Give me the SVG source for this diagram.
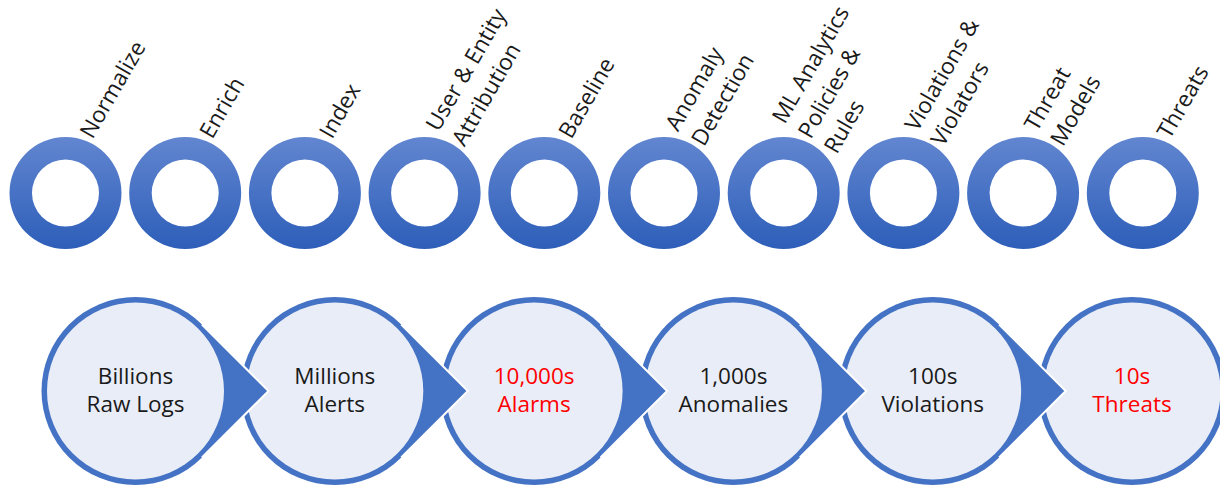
<svg xmlns="http://www.w3.org/2000/svg" xmlns:xlink="http://www.w3.org/1999/xlink" width="1220" height="487" viewBox="0 0 1220 487">
  <style>
    .lbl { font-family: "Open Sans", "Noto Sans", "Liberation Sans", sans-serif; font-size: 22.5px; fill: #1a1a1a; }
    .big { font-family: "Open Sans", "Noto Sans", "Liberation Sans", sans-serif; font-size: 22.5px; fill: #1a1a1a; text-anchor: middle; }
    .red { fill: #ff0000; }
    .ring { fill: url(#ringGrad); fill-rule: evenodd; }
    .outer { fill: #4472c4; }
    .inner { fill: #e9edf7; }
    .arr { fill: #4472c4; stroke: none; }
    .arrEdge { fill: none; stroke: #ffffff; stroke-width: 2; stroke-linejoin: miter; }
  </style>
  <defs>
    <linearGradient id="ringGrad" x1="0" y1="0" x2="0" y2="1">
      <stop offset="0" stop-color="#6286d0"/>
      <stop offset="1" stop-color="#2d5eb9"/>
    </linearGradient>
    <path id="ringShape" d="M -56 0 A 56 56 0 1 0 56 0 A 56 56 0 1 0 -56 0 Z M -33.5 0 A 33.5 33.5 0 1 0 33.5 0 A 33.5 33.5 0 1 0 -33.5 0 Z"/>
  </defs>
  <rect width="1220" height="487" fill="#ffffff"/>

  <!-- Top ring nodes -->
  <g id="ring-normalize">
    <use xlink:href="#ringShape" href="#ringShape" class="ring" transform="translate(65.5,193)"/>
    <text class="lbl" transform="translate(92.5,140) rotate(-60)"><tspan x="0" y="0">Normalize</tspan></text>
  </g>
  <g id="ring-enrich">
    <use xlink:href="#ringShape" href="#ringShape" class="ring" transform="translate(185.2,193)"/>
    <text class="lbl" transform="translate(212.2,140) rotate(-60)"><tspan x="0" y="0">Enrich</tspan></text>
  </g>
  <g id="ring-index">
    <use xlink:href="#ringShape" href="#ringShape" class="ring" transform="translate(304.9,193)"/>
    <text class="lbl" transform="translate(331.9,140) rotate(-60)"><tspan x="0" y="0">Index</tspan></text>
  </g>
  <g id="ring-attribution">
    <use xlink:href="#ringShape" href="#ringShape" class="ring" transform="translate(424.6,193)"/>
    <text class="lbl" transform="translate(451.6,140) rotate(-60)"><tspan x="0" y="-15">User &amp; Entity</tspan><tspan x="0" y="15">Attribution</tspan></text>
  </g>
  <g id="ring-baseline">
    <use xlink:href="#ringShape" href="#ringShape" class="ring" transform="translate(544.3,193)"/>
    <text class="lbl" transform="translate(571.3,140) rotate(-60)"><tspan x="0" y="0">Baseline</tspan></text>
  </g>
  <g id="ring-anomaly">
    <use xlink:href="#ringShape" href="#ringShape" class="ring" transform="translate(664,193)"/>
    <text class="lbl" transform="translate(691,140) rotate(-60)"><tspan x="0" y="-15">Anomaly</tspan><tspan x="0" y="15">Detection</tspan></text>
  </g>
  <g id="ring-ml">
    <use xlink:href="#ringShape" href="#ringShape" class="ring" transform="translate(783.7,193)"/>
    <text class="lbl" transform="translate(810.7,140) rotate(-60)"><tspan x="0" y="-30">ML Analytics</tspan><tspan x="0" y="0">Policies &amp;</tspan><tspan x="0" y="30">Rules</tspan></text>
  </g>
  <g id="ring-violations">
    <use xlink:href="#ringShape" href="#ringShape" class="ring" transform="translate(903.4,193)"/>
    <text class="lbl" transform="translate(930.4,140) rotate(-60)"><tspan x="0" y="-15">Violations &amp;</tspan><tspan x="0" y="15">Violators</tspan></text>
  </g>
  <g id="ring-threat-models">
    <use xlink:href="#ringShape" href="#ringShape" class="ring" transform="translate(1023.1,193)"/>
    <text class="lbl" transform="translate(1050.1,140) rotate(-60)"><tspan x="0" y="-15">Threat</tspan><tspan x="0" y="15">Models</tspan></text>
  </g>
  <g id="ring-threats">
    <use xlink:href="#ringShape" href="#ringShape" class="ring" transform="translate(1142.8,193)"/>
    <text class="lbl" transform="translate(1169.8,140) rotate(-60)"><tspan x="0" y="0">Threats</tspan></text>
  </g>

  <!-- Bottom funnel nodes -->
  <g id="stage-raw-logs">
    <circle class="outer" cx="135.5" cy="391" r="94"/>
    <circle class="inner" cx="135.5" cy="391" r="88.5"/>
    <text class="big"><tspan x="135.5" y="384">Billions</tspan><tspan x="135.5" y="411.5">Raw Logs</tspan></text>
  </g>
  <g id="stage-alerts">
    <circle class="outer" cx="334.8" cy="391" r="94"/>
    <circle class="inner" cx="334.8" cy="391" r="88.5"/>
    <text class="big"><tspan x="334.8" y="384">Millions</tspan><tspan x="334.8" y="411.5">Alerts</tspan></text>
  </g>
  <g id="stage-alarms">
    <circle class="outer" cx="534.1" cy="391" r="94"/>
    <circle class="inner" cx="534.1" cy="391" r="88.5"/>
    <text class="big red"><tspan x="534.1" y="384">10,000s</tspan><tspan x="534.1" y="411.5">Alarms</tspan></text>
  </g>
  <g id="stage-anomalies">
    <circle class="outer" cx="733.4" cy="391" r="94"/>
    <circle class="inner" cx="733.4" cy="391" r="88.5"/>
    <text class="big"><tspan x="733.4" y="384">1,000s</tspan><tspan x="733.4" y="411.5">Anomalies</tspan></text>
  </g>
  <g id="stage-violations">
    <circle class="outer" cx="932.7" cy="391" r="94"/>
    <circle class="inner" cx="932.7" cy="391" r="88.5"/>
    <text class="big"><tspan x="932.7" y="384">100s</tspan><tspan x="932.7" y="411.5">Violations</tspan></text>
  </g>
  <g id="stage-threats">
    <circle class="outer" cx="1132" cy="391" r="94"/>
    <circle class="inner" cx="1132" cy="391" r="88.5"/>
    <text class="big red"><tspan x="1132" y="384">10s</tspan><tspan x="1132" y="411.5">Threats</tspan></text>
  </g>

  <!-- Connectors (pointer arrows between stages) -->
  <g id="connectors">
    <path class="arr" d="M 201.9 324.5 L 268.5 391 L 201.9 457.5 A 100 100 0 0 0 201.9 324.5 Z"/>
    <polyline class="arrEdge" points="201.9,324.5 268.5,391 201.9,457.5"/>
    <path class="arr" d="M 401.2 324.5 L 467.8 391 L 401.2 457.5 A 100 100 0 0 0 401.2 324.5 Z"/>
    <polyline class="arrEdge" points="401.2,324.5 467.8,391 401.2,457.5"/>
    <path class="arr" d="M 600.5 324.5 L 667.1 391 L 600.5 457.5 A 100 100 0 0 0 600.5 324.5 Z"/>
    <polyline class="arrEdge" points="600.5,324.5 667.1,391 600.5,457.5"/>
    <path class="arr" d="M 799.8 324.5 L 866.4 391 L 799.8 457.5 A 100 100 0 0 0 799.8 324.5 Z"/>
    <polyline class="arrEdge" points="799.8,324.5 866.4,391 799.8,457.5"/>
    <path class="arr" d="M 999.1 324.5 L 1065.7 391 L 999.1 457.5 A 100 100 0 0 0 999.1 324.5 Z"/>
    <polyline class="arrEdge" points="999.1,324.5 1065.7,391 999.1,457.5"/>
  </g>
</svg>
